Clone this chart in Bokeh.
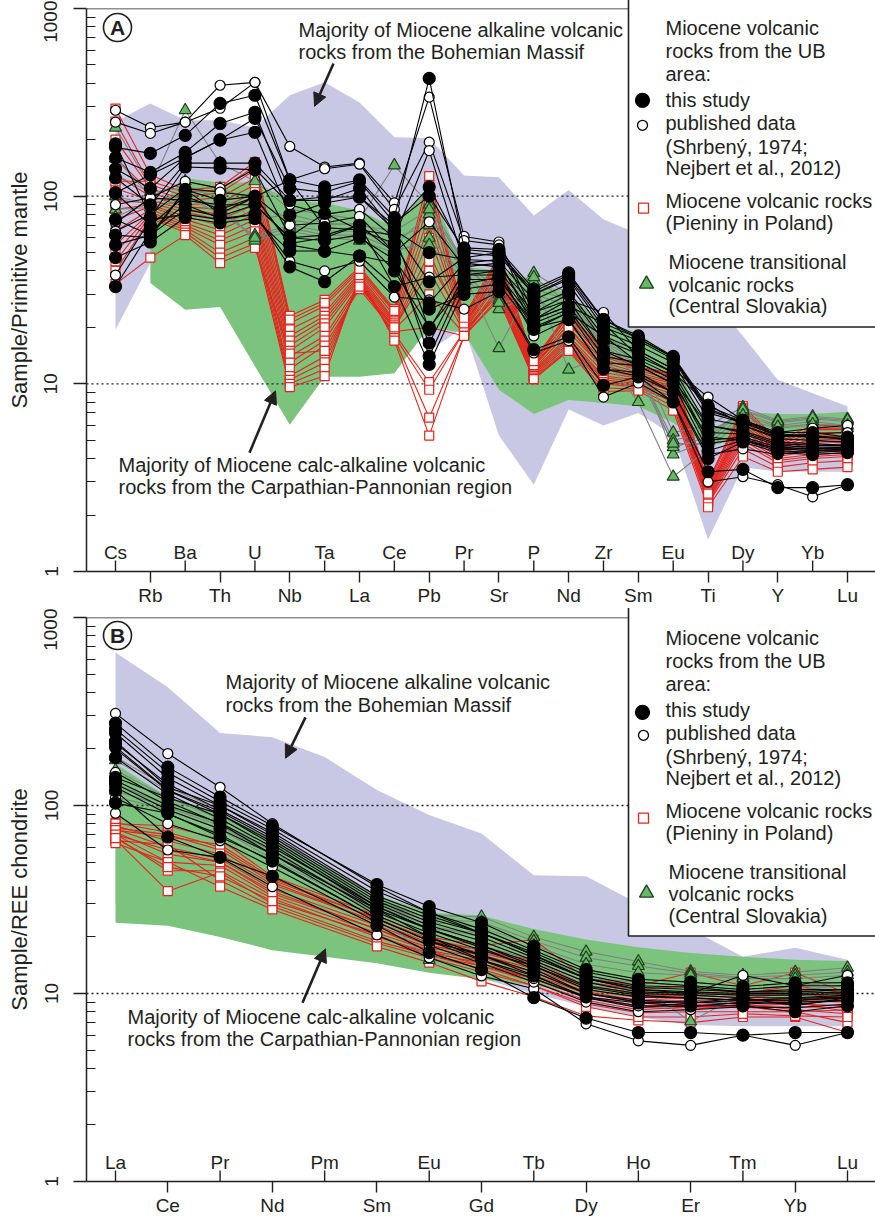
import math
from bokeh.plotting import figure
from bokeh.models import Range1d, FixedTicker, Span, Arrow, NormalHead
from bokeh.layouts import column
from bokeh.embed import file_html
from bokeh.resources import INLINE
from bokeh.core.properties import value

FONT = "Liberation Sans"
INK = "#231f20"
LAVENDER = "#c9c8e4"
GREEN_FILL = "#7cc47e"
RED = "#e4241c"
GRAY = "#808080"
TRI_FILL = "#66b866"
TRI_LINE = "#1f3f1f"

# ---------------- Panel A : primitive-mantle normalised ----------------
elements_A = ["Cs", "Rb", "Ba", "Th", "U", "Nb", "Ta", "La", "Ce", "Pb", "Pr",
              "Sr", "P", "Nd", "Zr", "Sm", "Eu", "Ti", "Dy", "Y", "Yb", "Lu"]

black_A = [
    [182, 169, 211, 312, 345, 122, 112, 122, 77, 424, 53, 52, 32, 39, 22, 18, 14, 7.6, 6.4, 5.5, 5.5, 5.2],
    [160, 134, 171, 244, 280, 95, 99, 99, 70, 112, 50, 48, 30, 36, 20, 17, 13.5, 7.0, 6.2, 5.3, 5.3, 5.0],
    [104, 130, 160, 199, 219, 79, 92, 99, 66, 50, 46, 45, 28, 34, 19, 16, 13, 6.5, 6.0, 5.1, 5.0, 4.9],
    [190, 77, 143, 141, 138, 61, 81, 66, 56, 27, 44, 42, 26, 31, 18, 15, 12, 6.0, 5.6, 4.9, 4.8, 4.7],
    [62, 60, 108, 81, 99, 122, 68, 66, 62, 19.5, 40, 40, 24, 30, 17, 14.5, 11.5, 5.5, 5.4, 4.7, 4.6, 4.6],
    [47, 57, 77, 72, 76, 51, 51, 48, 44, 16.5, 38, 38, 22, 26, 15, 13.5, 11, 5.0, 5.2, 4.6, 4.5, 4.5],
    [33, 65, 90, 76, 80, 42, 35, 48, 33, 12.7, 32, 34, 19.5, 24, 13, 12.5, 10, 4.4, 5.0, 4.4, 4.3, 4.4],
    [104, 70, 100, 85, 99, 56, 60, 70, 50, 14, 36, 36, 21, 25, 14, 13, 10.5, 4.8, 5.1, 4.5, 4.4, 4.4],
    [125, 90, 150, 150, 150, 95, 95, 110, 65, 35, 47, 50, 30, 37, 21, 17.5, 13.8, 7.2, 6.3, 5.4, 5.3, 5.1],
    [75, 62, 108, 95, 100, 55, 51, 60, 46, 25, 30, 31, 15.2, 17.8, 9.8, 10.9, 8.0, 3.4, 3.5, 2.8, 2.8, 2.9],
    [140, 110, 160, 200, 260, 110, 105, 120, 72, 100, 52, 50, 31, 38, 22, 17.5, 13.8, 7.4, 6.2, 5.3, 5.2, 5.1],
    [55, 62, 85, 78, 90, 60, 58, 62, 40, 20, 34, 37, 20, 22, 12, 11.5, 9.0, 4.0, 4.9, 4.3, 4.2, 4.3],
]
open_A = [
    [287, 232, 248, 390, 404, 184, 143, 150, 92, 337, 61, 57, 24, 28, 24, 15, 12, 8.5, 6.4, 5.5, 5.8, 6.0],
    [248, 216, 248, 294, 404, 122, 140, 148, 85, 194, 58, 55, 22, 26, 21, 14, 11.5, 7.8, 6.0, 5.2, 5.4, 5.5],
    [72, 98, 120, 110, 140, 90, 80, 85, 60, 175, 44, 46, 20, 24, 18, 13, 10.5, 6.0, 5.5, 4.8, 4.7, 4.7],
    [38, 75, 80, 75, 80, 45, 40, 45, 29, 28, 25, 31, 14.6, 17, 8.5, 10.1, 8.0, 3.0, 3.2, 2.9, 2.5, 2.9],
    [90, 98, 95, 90, 90, 60, 62, 70, 33, 37, 38, 40, 18, 22, 12, 11, 9.0, 4.2, 4.5, 4.2, 4.4, 4.5],
    [65, 80, 110, 105, 100, 70, 72, 78, 50, 73, 42, 44, 22, 28, 15, 12.5, 10, 5.2, 5.0, 4.5, 4.5, 4.6],
]
red_A = [
    [293, 130, 108, 112, 152, 23, 28, 42, 25, 128, 23, 48, 13.4, 24, 15, 12.3, 11.4, 3.0, 7.6, 5.0, 6.0, 6.0],
    [250, 115, 100, 104, 138, 21, 26, 40, 24, 110, 22, 45, 13, 23, 14, 12, 11, 2.9, 7.2, 4.8, 5.7, 5.7],
    [200, 110, 95, 98, 125, 19.5, 24, 39, 23, 95, 21.5, 43, 12.8, 22, 13.5, 11.8, 10.5, 2.8, 6.8, 4.7, 5.5, 5.5],
    [160, 105, 90, 92, 115, 18, 23, 38, 22, 80, 21, 41, 12.5, 21, 13, 11.5, 10.2, 2.75, 6.5, 4.6, 5.3, 5.2],
    [130, 100, 88, 85, 105, 17, 22, 37, 21.5, 70, 20.5, 40, 12.3, 20, 12.5, 11.2, 10, 2.7, 6.2, 4.5, 5.1, 5.0],
    [110, 95, 85, 80, 98, 16, 21, 36, 21, 60, 20, 38, 12, 19, 12, 11, 9.7, 2.65, 6.0, 4.4, 4.9, 4.9],
    [95, 92, 82, 75, 90, 15, 20, 35, 20.5, 50, 19.5, 36, 11.8, 18, 11.5, 10.7, 9.4, 2.6, 5.8, 4.3, 4.7, 4.7],
    [85, 90, 78, 70, 85, 14, 18, 34, 20, 40, 19, 35, 11.6, 17.5, 11, 10.5, 9.1, 2.55, 5.6, 4.2, 4.5, 4.5],
    [75, 88, 75, 66, 80, 13, 17, 33, 19.5, 30, 18.5, 33, 11.4, 17, 10.8, 10.2, 8.8, 2.5, 5.4, 4.1, 4.4, 4.4],
    [65, 85, 72, 62, 75, 12, 16, 32, 19, 20, 18, 32, 11.2, 16.5, 10.5, 10, 8.5, 2.45, 5.2, 4.0, 4.2, 4.3],
    [55, 82, 70, 58, 70, 11, 14, 34, 18.5, 10.2, 19, 31, 11, 16, 10.2, 9.8, 8.2, 2.4, 5.0, 3.9, 4.1, 4.2],
    [50, 80, 68, 55, 65, 10.5, 13, 35, 18, 9.3, 19, 30, 10.8, 15.5, 10, 9.6, 8.0, 2.35, 4.8, 3.8, 4.0, 4.1],
    [45, 78, 66, 50, 60, 10, 12, 36, 17.5, 6.6, 18, 29, 10.6, 15.2, 9.5, 9.4, 7.6, 2.3, 4.5, 3.6, 3.8, 3.9],
    [40, 76, 64, 47, 56, 9.6, 11, 38, 17, 5.3, 18, 28, 10.6, 15, 9.1, 9.2, 7.2, 2.2, 4.1, 3.4, 3.5, 3.6],
    [34, 47, 62, 44, 53, 14.5, 15, 33, 20, 45, 21, 37, 12.6, 20, 12, 10.8, 9.5, 2.6, 6.4, 4.6, 5.0, 4.8],
    [120, 120, 105, 108, 145, 22, 27, 41, 24.5, 115, 22.5, 46, 13.2, 23.5, 14.5, 12.2, 11.2, 3.0, 7.4, 4.9, 5.8, 5.8],
]
green_A = [
    [232, 112, 287, 150, 120, 85, 80, 75, 146, 90, 45, 28, 39, 30, 18, 14, 5.5, 6.0, 7.5, 6.4, 6.7, 6.5],
    [159, 100, 120, 110, 95, 75, 70, 72, 60, 70, 40, 25, 30, 26, 16, 12, 5.0, 5.5, 7.0, 6.0, 6.3, 6.0],
    [85, 87, 95, 90, 58, 65, 60, 58, 50, 60, 38, 15.5, 35, 11.9, 14, 8.0, 3.2, 4.5, 6.5, 5.8, 6.0, 5.8],
    [77, 95, 100, 80, 62, 70, 65, 65, 55, 80, 42, 30, 32, 28, 17, 13, 4.2, 5.0, 7.2, 6.2, 6.5, 6.3],
    [130, 105, 110, 100, 75, 80, 72, 70, 65, 85, 44, 32, 37, 27, 16.5, 12.5, 4.6, 5.2, 7.3, 6.3, 6.6, 6.4],
    [100, 90, 105, 85, 60, 68, 62, 62, 52, 55, 36, 27, 29, 22, 15, 11, 4.8, 4.8, 6.8, 5.9, 6.1, 6.0],
]
# envelopes (None = not covered)
bohemian_up_A = [250, 312, 254, 254, 232, 345, 404, 316, 206, 204, 129, 126, 79, 108, 75, 63, 48, 30, 18, 10.5, 8.9, 7.6]
bohemian_lo_A = [19.4, 44, 40, 40, 40, 40, 40, 40, 40, 15, 20, 5.3, 2.9, 7.3, 6.0, 7.0, 5.3, 1.48, 3.6, 3.4, 3.4, 3.4]
carpath_up_A = [None, 80, 125, 118, 119, 95, 92, 84, 68, 112, 42, 40, 36, 30, 21, 18.7, 13.5, 5.6, 7.1, 6.9, 6.9, 7.1]
carpath_lo_A = [None, 34.5, 24.8, 25.7, 12.4, 6.05, 10.9, 10.9, 11.4, 20, 18.7, 9.3, 6.9, 8.2, 7.9, 7.6, 6.2, 4.6, 5.2, 5.0, 5.0, 5.0]

# ---------------- Panel B : REE chondrite normalised ----------------
elements_B = ["La", "Ce", "Pr", "Nd", "Pm", "Sm", "Eu", "Gd", "Tb", "Dy", "Ho", "Er", "Tm", "Yb", "Lu"]
measured_B = ["La", "Ce", "Pr", "Nd", "Sm", "Eu", "Gd", "Tb", "Dy", "Ho", "Er", "Tm", "Yb", "Lu"]

black_B = [
    [274, 160, 111, 78, 38, 29, 23.8, 17.8, 13.4, 11.9, 11.5, 10.9, 11.4, 11.4],
    [255, 150, 105, 75, 35, 27, 22, 17, 13, 11.5, 11, 10.5, 11, 11],
    [243, 140, 100, 72, 33, 26, 21, 16.5, 12.5, 11, 10.8, 10.2, 10.5, 10.5],
    [214, 130, 95, 68, 31, 24, 20, 15.5, 12, 10.5, 10.2, 10, 10, 10.2],
    [205, 121, 93, 66, 30, 23, 19, 15, 11.5, 10.2, 10, 9.8, 9.8, 10],
    [141, 110, 90, 64, 29, 22, 18, 14.5, 11, 10, 9.8, 9.5, 9.5, 9.8],
    [136, 100, 81, 58, 27, 21, 17, 14, 10.5, 9.6, 9.5, 9.2, 9.2, 9.5],
    [103, 91, 68, 51, 25, 19, 16, 13, 10, 9.2, 9, 8.8, 9, 9.2],
    [120, 68, 53, 42, 23, 16.5, 13.4, 9.5, 7.4, 6.2, 6.2, 6.0, 6.2, 6.2],
    [130, 95, 75, 55, 28, 20, 15.1, 12.4, 9.6, 8.9, 8.6, 8.6, 8.0, 8.6],
    [220, 125, 100, 70, 32, 25, 21, 16, 12, 10.8, 10.5, 10.2, 10.2, 10.5],
    [180, 115, 85, 60, 29, 22, 18, 14, 10.8, 9.8, 9.4, 9.2, 9.4, 9.6],
]
open_B = [
    [309, 189, 125, 80, 37, 27, 21, 16, 12, 10.5, 10, 12.5, 11, 12.5],
    [91, 58, 53, 37, 20.5, 15.5, 12.4, 10.6, 6.9, 5.6, 5.3, 6.0, 5.3, 6.2],
    [150, 105, 80, 55, 26, 20, 16, 12.5, 9.5, 8.4, 8.9, 9.5, 8.6, 9.5],
    [200, 120, 90, 62, 28, 22, 17.5, 13.5, 10, 9, 8.9, 9.2, 9.2, 9.5],
    [110, 80, 65, 47, 24, 18, 14.5, 11.5, 9, 8, 8.2, 8.5, 8.4, 8.8],
    [125, 90, 70, 50, 25, 19, 15, 12, 9.5, 8.6, 8.5, 9, 8.8, 9.2],
]
red_B = [
    [81, 72, 60, 40, 25, 19, 17, 15, 11.5, 10.5, 11, 10, 11, 10],
    [78, 65, 55, 38, 24, 18.5, 16.5, 14, 11, 10, 10.2, 9.8, 10.5, 9.8],
    [75, 60, 52, 36, 23, 18, 16, 13.5, 10.5, 9.5, 9.8, 9.5, 10, 9.5],
    [72, 55, 50, 35, 22, 17.5, 15.5, 13, 10.2, 9.2, 9.5, 9.2, 9.5, 9.2],
    [70, 50, 48, 33, 21, 17, 15, 12.5, 10, 9, 9.2, 9, 9.2, 9],
    [68, 45, 45, 32, 20, 16.5, 14.5, 12, 9.6, 8.6, 8.8, 8.6, 8.8, 8.6],
    [66, 35, 44, 30, 19, 16, 14, 11.5, 9.2, 8.2, 8.5, 8.4, 8.5, 8.4],
    [65, 62, 40, 29, 18.5, 15.5, 13, 11, 8.8, 7.9, 8.0, 8.0, 8.0, 8.2],
    [80, 78, 66, 42, 26, 20, 18, 19.3, 12, 11, 12.9, 11, 12.9, 10],
    [63, 50, 37, 28, 17.8, 14.6, 11.6, 9.6, 7.6, 7.2, 7.0, 7.5, 7.5, 6.2],
    [76, 70, 58, 39, 24, 18, 16, 13, 10, 9, 8.5, 8.5, 8.0, 7.0],
    [74, 68, 62, 41, 25, 19.5, 17, 14.5, 11, 10, 9.5, 9.2, 9, 8.0],
    [70, 58, 50, 34, 22, 17, 14, 12, 9.5, 8.5, 8.2, 8.8, 8.2, 7.8],
    [67, 47, 42, 31, 20.5, 16, 13.5, 11, 8.5, 7.5, 7.5, 7.8, 7.6, 7.5],
]
green_B = [
    [181, 125, 95, 68, 33, 26, 25.6, 20, 16.7, 14.8, 13.1, 12.5, 13, 13.7],
    [174, 120, 90, 65, 31, 25, 24, 19, 15.5, 14, 12.8, 12.2, 12.5, 13],
    [154, 110, 85, 60, 30, 24, 22.5, 18, 14.3, 12.9, 12.5, 12, 12, 12.5],
    [130, 100, 80, 57, 28, 22, 21, 16, 12.5, 11, 7.1, 10, 10.5, 11],
    [111, 95, 75, 52, 27, 15.1, 18, 15, 11, 10.5, 10, 9.8, 10, 10.5],
    [120, 98, 78, 55, 29, 23, 20, 15.5, 12, 11.5, 11, 10.5, 11, 11.5],
]
bohemian_up_B = [652, 425, 243, 231, 181, 121, 89, 71, 42.5, 42, 30, 22, 15.7, 17.5, 15.1]
bohemian_lo_B = [30, 28, 25, 20, 18, 16, 14, 12, 10, 8.5, 7.5, 6.8, 6.7, 6.7, 6.7]
carpath_up_B = [166, 111, 91, 66, 47, 33.5, 27, 26, 22, 19.4, 17.6, 16.4, 15.7, 15.1, 14.9]
carpath_lo_B = [23.8, 22.9, 20, 17, 15.7, 14.5, 12.9, 11.9, 11, 10, 9.5, 9.5, 9.5, 9.5, 9.5]

y_ticks = [1, 10, 100, 1000]
y_tick_labels = ["1", "10", "100", "1000"]

legend_rows = ["Miocene volcanic", "rocks from the UB", "area:", "this study", "published data",
               "(Shrbený, 1974;", "Nejbert et al., 2012)", "Miocene volcanic rocks",
               "(Pieniny in Poland)", "Miocene transitional", "volcanic rocks", "(Central Slovakia)"]
note_alk = ["Majority of Miocene alkaline volcanic", "rocks from the Bohemian Massif"]
note_calc = ["Majority of Miocene calc-alkaline volcanic", "rocks from the Carpathian-Pannonian region"]


def make_panel(P, elements, measured, groups, envelopes, ylabel, letter, lay, height, b_top, b_bottom):
    def X(px):
        return (px - P["x0"]) / P["dx"]

    def Y(py):
        return 10 ** (3 - (py - P["top"]) / P["dec"])

    xr0, xr1 = X(86), X(875)
    p = figure(width=875, height=height, x_range=Range1d(xr0, xr1), y_range=Range1d(1, 1000),
               y_axis_type="log", output_backend="svg", toolbar_location=None,
               min_border_left=86, min_border_right=0, min_border_top=b_top,
               min_border_bottom=b_bottom)
    p.outline_line_color = None
    p.xgrid.visible = False
    p.ygrid.visible = False
    p.background_fill_color = "white"
    p.border_fill_color = "white"

    # envelopes
    for color, up, lo in envelopes:
        idx = [i for i, v in enumerate(up) if v is not None]
        p.patch(idx + idx[::-1], [up[i] for i in idx] + [lo[i] for i in idx[::-1]],
                fill_color=color, line_color=None)
    p.segment(x0=[xr0, xr0], y0=[10, 100], x1=[xr1, xr1], y1=[10, 100],
              line_color=INK, line_width=1.3, line_dash="2 3")

    xs = [elements.index(e) for e in measured]
    for rows, lc, mk, sz, fc, mlc in groups:
        p.multi_line(xs=[xs] * len(rows), ys=rows, line_color=lc, line_width=1.1)
        p.scatter([x for r in rows for x in xs], [v for r in rows for v in r], marker=mk,
                  size=sz, fill_color=fc, line_color=mlc, line_width=1.2)

    # y axis
    ya = p.yaxis[0]
    minor = [m * d for d in (1, 10, 100) for m in range(2, 10)]
    ya.ticker = FixedTicker(ticks=y_ticks, minor_ticks=minor)
    ya.major_label_overrides = dict(zip(y_ticks, y_tick_labels))
    ya.major_label_orientation = "vertical"
    ya.major_tick_out = 13
    ya.major_tick_in = 0
    ya.minor_tick_in = 9
    ya.minor_tick_out = 0
    ya.major_label_standoff = 16
    for a in (ya, p.xaxis[0]):
        a.axis_line_color = INK
        a.axis_line_width = 1.5
        a.major_tick_line_color = INK
        a.major_tick_line_width = 1.4
        a.minor_tick_line_color = INK
        a.minor_tick_line_width = 1.2
        a.major_label_text_font = FONT
        a.major_label_text_font_size = "19px"
        a.major_label_text_color = INK
    ya.axis_label = ylabel
    ya.axis_label_text_font = FONT
    ya.axis_label_text_font_size = "22px"
    ya.axis_label_text_font_style = "normal"
    ya.axis_label_text_color = INK
    ya.axis_label_standoff = 10
    p.add_layout(Span(location=1000, dimension="width", line_color=INK, line_width=1.6))

    # x axis: odd elements below, even elements inside
    xa = p.xaxis[0]
    xa.axis_label = None
    odd = list(range(1, len(elements), 2))
    even = list(range(0, len(elements), 2))
    xa.ticker = FixedTicker(ticks=odd)
    xa.major_label_overrides = {i: elements[i] for i in odd}
    xa.major_tick_out = 11
    xa.major_tick_in = 0
    xa.minor_tick_line_color = None
    xa.major_label_standoff = 2
    p.segment(x0=even, y0=[1] * len(even), x1=even, y1=[10 ** (11 / P["dec"])] * len(even),
              line_color=INK, line_width=1.4)
    p.text(x=even, y=[10 ** (19 / P["dec"])] * len(even), text=[elements[i] for i in even],
           text_font=value(FONT), text_font_size="19px", text_color=INK,
           text_align="center", text_baseline="alphabetic")

    # notes and arrows
    for txt, px, py in lay["notes"]:
        p.text(x=[X(px)], y=[Y(py)], text=[txt], text_font=value(FONT), text_font_size="20px",
               text_color=INK, text_align="left", text_baseline="middle")
    for (sx, sy), (ex, ey) in lay["arrows"]:
        p.add_layout(Arrow(end=NormalHead(size=13, fill_color=INK, line_color=INK, line_width=1),
                           x_start=X(sx), y_start=Y(sy), x_end=X(ex), y_end=Y(ey),
                           line_color=INK, line_width=2.6))

    # circled panel letter
    cx, cy = lay["letter"]
    p.scatter([X(cx)], [Y(cy)], marker="circle", size=28, fill_color="white",
              line_color=INK, line_width=1.6, level="overlay")
    p.text(x=[X(cx)], y=[Y(cy)], text=[letter], text_font=value(FONT), text_font_size="21px",
           text_font_style="bold", text_color=INK, text_align="center",
           text_baseline="middle", level="overlay")

    # legend box
    p.quad(left=[X(628)], right=[xr1 + 5], top=[5000], bottom=[Y(lay["box_bottom"])],
           fill_color="white", line_color=INK, line_width=1.6, level="overlay")
    for txt, (px, py) in zip(legend_rows, lay["legend_pos"]):
        p.text(x=[X(px)], y=[Y(py)], text=[txt], text_font=value(FONT), text_font_size="20px",
               text_color=INK, text_align="left", text_baseline="middle", level="overlay")
    for (px, py), mk, sz, fc, lc in lay["legend_marks"]:
        p.scatter([X(px)], [Y(py)], marker=mk, size=sz, fill_color=fc, line_color=lc,
                  line_width=1.3, level="overlay")
    return p


PA = dict(x0=115, dx=34.857, top=8, dec=188.0)
PB = dict(x0=115, dx=52.286, top=617, dec=188.33)

lay_A = dict(
    notes=[(note_alk[0], 298, 30), (note_alk[1], 298, 52),
           (note_calc[0], 118, 465), (note_calc[1], 118, 487)],
    arrows=[((333, 63), (314, 106)), ((249, 453), (275, 391))],
    letter=(117, 27),
    box_bottom=327,
    legend_pos=[(665, 28), (665, 51), (665, 74), (665, 100), (665, 123), (665, 147),
                (665, 168), (665, 201), (665, 223), (668, 262), (668, 285), (668, 306)],
    legend_marks=[((642, 100), "circle", 14, "black", "black"),
                  ((642, 125), "circle", 10, "white", "black"),
                  ((643, 208), "square", 10, "white", RED),
                  ((646, 284), "triangle", 14, TRI_FILL, TRI_LINE)],
)
lay_B = dict(
    notes=[(note_alk[0], 225, 682), (note_alk[1], 225, 705),
           (note_calc[0], 127, 1017), (note_calc[1], 127, 1039)],
    arrows=[((305, 717), (285, 758)), ((302, 1003), (325, 949))],
    letter=(117, 635),
    box_bottom=936,
    legend_pos=[(665, 638), (665, 661), (665, 684), (665, 710), (665, 733), (665, 757),
                (665, 778), (665, 811), (665, 833), (668, 872), (668, 894), (668, 916)],
    legend_marks=[((642, 712), "circle", 14, "black", "black"),
                  ((643, 735), "circle", 10, "white", "black"),
                  ((643, 818), "square", 10, "white", RED),
                  ((646, 893), "triangle", 14, TRI_FILL, TRI_LINE)],
)


def groups_for(red, green, opn, blk):
    return [
        (red, RED, "square", 9, "white", RED),
        (green, GRAY, "triangle", 12, TRI_FILL, TRI_LINE),
        (opn, "black", "circle", 10, "white", "black"),
        (blk, "black", "circle", 12, "black", "black"),
    ]


pA = make_panel(PA, elements_A, elements_A, groups_for(red_A, green_A, open_A, black_A),
                [(LAVENDER, bohemian_up_A, bohemian_lo_A), (GREEN_FILL, carpath_up_A, carpath_lo_A)],
                "Sample/Primitive mantle", "A", lay_A, 608, 8, 36)
pB = make_panel(PB, elements_B, measured_B, groups_for(red_B, green_B, open_B, black_B),
                [(LAVENDER, bohemian_up_B, bohemian_lo_B), (GREEN_FILL, carpath_up_B, carpath_lo_B)],
                "Sample/REE chondrite", "B", lay_B, 610, 9, 36)

layout = column(pA, pB)
open("out.html", "w").write(file_html(layout, INLINE))
